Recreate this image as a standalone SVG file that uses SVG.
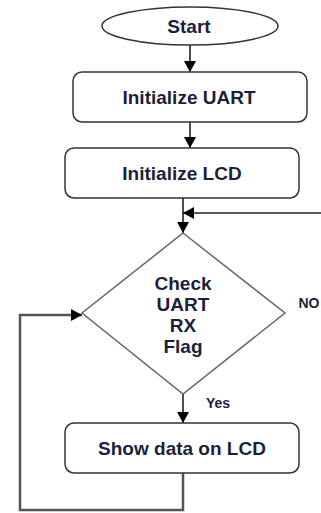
<svg xmlns="http://www.w3.org/2000/svg" width="321" height="513" viewBox="0 0 321 513">
<defs>
<marker id="arr" markerUnits="userSpaceOnUse" markerWidth="12" markerHeight="12" refX="11" refY="6" orient="auto">
<path d="M0,0 L11,6 L0,12 Z" fill="#000"/>
</marker>
<style>
.box{fill:#fff;stroke:#333;stroke-width:1.5}
.dia{fill:#fff;stroke:#666;stroke-width:1.5}
.t{font-family:"Liberation Sans",Arial,sans-serif;font-weight:bold;fill:#1c1f3a;text-anchor:middle}
.big{font-size:19px}
.sm{font-size:14px}
.c{fill:none;stroke:#222;stroke-width:1.6}
.lp{fill:none;stroke:#555;stroke-width:2.5}
</style>
</defs>
<rect width="321" height="513" fill="#fff"/>
<g id="connectors">
<line class="c" x1="190" y1="45" x2="190" y2="72" marker-end="url(#arr)"/>
<line class="c" x1="190" y1="122" x2="190" y2="148" marker-end="url(#arr)"/>
<line class="c" x1="183" y1="198" x2="183" y2="233" marker-end="url(#arr)"/>
<line class="c" x1="321" y1="213" x2="183" y2="213" marker-end="url(#arr)"/>
<line class="c" x1="183" y1="394" x2="183" y2="423" marker-end="url(#arr)"/>
<path class="lp" d="M183 473 V510 H20 V315 H82" marker-end="url(#arr)"/>
<text class="t sm" x="218" y="408">Yes</text>
<text class="t sm" x="309" y="308">NO</text>
</g>
<g id="start">
<ellipse class="box" cx="190" cy="26" rx="88" ry="19"/>
<text class="t big" x="189" y="33">Start</text>
</g>
<g id="init-uart">
<rect class="box" x="73" y="72" width="234" height="50" rx="9"/>
<text class="t big" x="189" y="104">Initialize UART</text>
</g>
<g id="init-lcd">
<rect class="box" x="65" y="148" width="234" height="50" rx="9"/>
<text class="t big" x="182" y="180">Initialize LCD</text>
</g>
<g id="check">
<polygon class="dia" points="183,233 285,313 183,394 82,313"/>
<text class="t big" x="183" y="290">Check</text>
<text class="t big" x="183" y="311">UART</text>
<text class="t big" x="183" y="332">RX</text>
<text class="t big" x="183" y="353">Flag</text>
</g>
<g id="show">
<rect class="box" x="65" y="423" width="234" height="50" rx="9"/>
<text class="t big" x="182" y="455">Show data  on LCD</text>
</g>
</svg>
